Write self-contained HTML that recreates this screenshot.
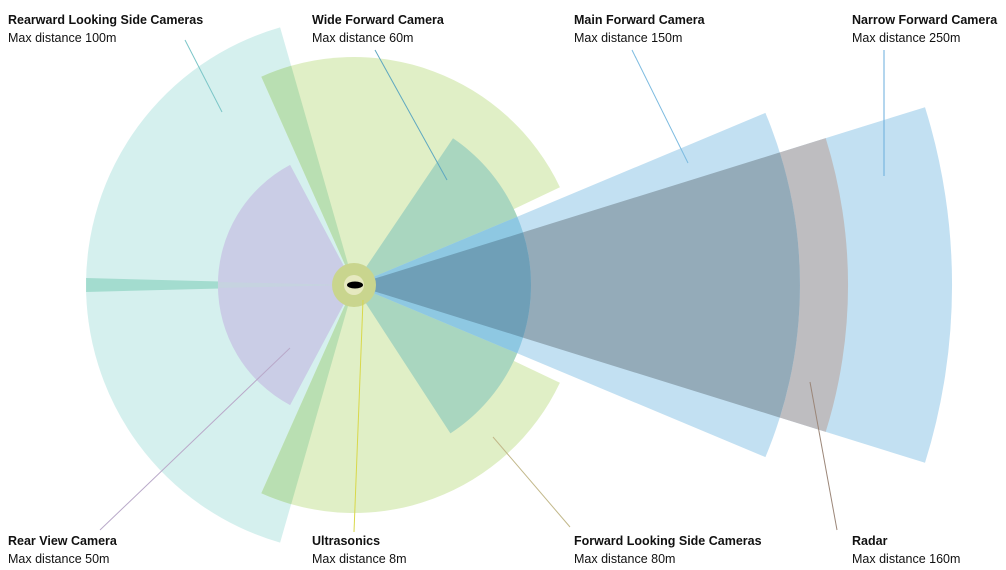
<!DOCTYPE html>
<html><head><meta charset="utf-8"><style>
html,body{margin:0;padding:0;background:#fff;}
svg{display:block}
text{font-family:"Liberation Sans",Arial,sans-serif;font-size:12.5px;fill:#111}
.b{font-weight:bold}
</style></head><body>
<svg width="1006" height="570" viewBox="0 0 1006 570" xmlns="http://www.w3.org/2000/svg">
<rect width="1006" height="570" fill="#fff"/>
<!-- rearward teal -->
<path d="M354,285 L280.1,27.4 A268 268 0 0 0 86.1,292 Z" fill="#d5f0ee"/>
<path d="M354,285 L86.1,278 A268 268 0 0 0 280.1,542.6 Z" fill="#d5f0ee"/>
<path d="M354,285 L86.1,278 L86.1,292 Z" fill="#a3dccf"/>
<!-- forward side yellow -->
<path d="M354,285 L261.3,76.7 A228 228 0 0 1 559.9,187.2 Z" fill="#e0efc6"/>
<path d="M354,285 L559.9,382.8 A228 228 0 0 1 261.3,493.3 Z" fill="#e0efc6"/>
<path d="M354,285 L261.3,76.7 A228 228 0 0 1 291.2,65.8 Z" fill="#b9dfb2"/>
<path d="M354,285 L291.2,504.2 A228 228 0 0 1 261.3,493.3 Z" fill="#b9dfb2"/>
<!-- rear view lavender -->
<path d="M354,285 L290.1,405.1 A136 136 0 0 1 290.1,164.9 Z" fill="#cacde6"/>
<path d="M354,285 L218,282 L218,288 Z" fill="#c6d3e0"/>
<!-- wide forward -->
<path d="M354,285 L453,138.3 A177 177 0 0 1 450.4,433.4 Z" fill="#a9d6bf"/>
<!-- narrow -->
<path d="M354,285 L925,107.2 A598 598 0 0 1 925,462.8 Z" fill="#c2e0f2"/>
<!-- radar -->
<path d="M354,285 L825.7,138.1 A494 494 0 0 1 825.7,431.9 Z" fill="#bebdc0"/>
<!-- main -->
<path d="M354,285 L765.4,112.9 A446 446 0 0 1 765.4,457.1 Z" fill="#c2e0f2"/>
<path d="M354,285 L779.8,152.4 A446 446 0 0 1 779.8,417.6 Z" fill="#94abb9"/>
<!-- inner overlaps -->
<path d="M354,285 L517.3,216.7 A177 177 0 0 1 517.3,353.3 Z" fill="#8ec8e2"/>
<path d="M354,285 L523,232.4 A177 177 0 0 1 523,337.6 Z" fill="#6f9fb7"/>
<!-- ultrasonics -->
<circle cx="354" cy="285" r="22" fill="#c9d58e"/>
<circle cx="354" cy="285" r="10" fill="#e6e9c0"/>
<ellipse cx="355" cy="285" rx="8" ry="3.5" fill="#000"/>
<!-- leader lines -->
<g stroke-width="1" fill="none">
<line x1="185" y1="40" x2="222" y2="112" stroke="#7cc6c8"/>
<line x1="375" y1="50" x2="447" y2="180" stroke="#5fa8c0"/>
<line x1="632" y1="50" x2="688" y2="163" stroke="#7dbbe0"/>
<line x1="884" y1="50" x2="884" y2="176" stroke="#6aaedc"/>
<line x1="100" y1="530" x2="290" y2="348" stroke="#b9a9c9"/>
<line x1="363" y1="300" x2="354" y2="532" stroke="#d8d84a"/>
<line x1="493" y1="437" x2="570" y2="527" stroke="#c2b88a"/>
<line x1="810" y1="382" x2="837" y2="530" stroke="#9b8678"/>
</g>
<!-- labels -->
<text x="8" y="24" class="b">Rearward Looking Side Cameras</text>
<text x="8" y="42">Max distance 100m</text>
<text x="312" y="24" class="b">Wide Forward Camera</text>
<text x="312" y="42">Max distance 60m</text>
<text x="574" y="24" class="b">Main Forward Camera</text>
<text x="574" y="42">Max distance 150m</text>
<text x="852" y="24" class="b">Narrow Forward Camera</text>
<text x="852" y="42">Max distance 250m</text>
<text x="8" y="545" class="b">Rear View Camera</text>
<text x="8" y="563">Max distance 50m</text>
<text x="312" y="545" class="b">Ultrasonics</text>
<text x="312" y="563">Max distance 8m</text>
<text x="574" y="545" class="b">Forward Looking Side Cameras</text>
<text x="574" y="563">Max distance 80m</text>
<text x="852" y="545" class="b">Radar</text>
<text x="852" y="563">Max distance 160m</text>
</svg>
</body></html>
